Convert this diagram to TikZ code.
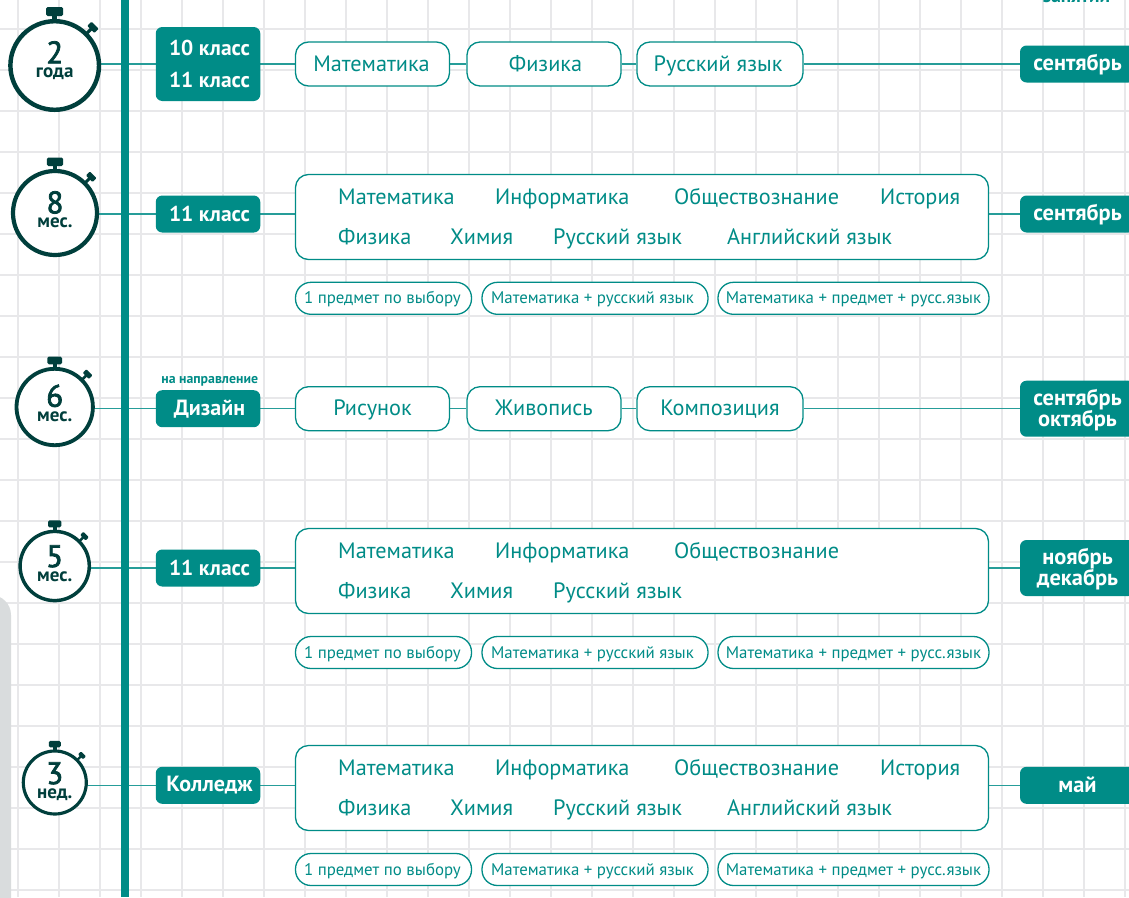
\documentclass[tikz,border=0pt]{standalone}
\usepackage{fontspec}
\setmainfont{PT Sans}
\newfontfamily\numfont[FakeBold=2.5]{PT Sans}
\definecolor{teal1}{HTML}{008C87}
\definecolor{dark1}{HTML}{003F3C}
\definecolor{gridc}{HTML}{E8E8EA}
\definecolor{panel}{HTML}{D9DCDD}
\pgfdeclarelayer{bglayer}
\pgfdeclarelayer{linklayer}
\pgfdeclarelayer{toplayer}
\pgfsetlayers{bglayer,linklayer,main,toplayer}
\tikzset{
  x=1pt,y=-1pt,
  link/.style={draw=teal1!85!white,line width=1.4pt},
  outbox/.style={draw=teal1,line width=1.3pt,fill=white,rounded corners=13pt,inner sep=0pt,text=teal1,font=\fontsize{22.25}{22.25}\selectfont,anchor=center,align=center,text height=18pt,text depth=4pt},
  pill/.style={draw=teal1,line width=1.3pt,fill=white,rounded corners=15.5pt,inner sep=0pt,text=teal1,font=\fontsize{16.85}{16.85}\selectfont,anchor=center,text height=15pt,text depth=4pt,minimum height=32pt},
  subj/.style={text=teal1,font=\fontsize{22.25}{22.25}\selectfont,inner sep=0pt,anchor=base west},
  tag/.style={fill=teal1,rounded corners=6.5pt,inner sep=0pt,text=white,font=\fontsize{22}{25}\selectfont\bfseries,align=center,anchor=center,minimum width=104.5pt,minimum height=37pt},
  endtag/.style={fill=teal1,rounded corners=6.5pt,inner sep=0pt,text=white,font=\fontsize{22.4}{21}\selectfont\bfseries,align=center,anchor=center,minimum width=115pt,minimum height=37pt},
  oneline/.style={text height=17.5pt,text depth=4pt},
  bignum/.style={text=dark1,inner sep=0pt,font=\numfont\fontsize{31}{31}\selectfont},
  smalllab/.style={text=dark1,inner sep=0pt,font=\fontsize{19}{19}\selectfont\bfseries},
}
% #1 name, #2 cx, #3 cy, #4 radius, #5 number baseline, #6 label baseline, #7 number, #8 label
\newcommand{\watch}[8]{%
  \pgfmathsetmacro{\wscale}{#4/44.3}%
  \pgfmathsetmacro{\wstroke}{#4*0.1}%
  \node[circle,draw=dark1,line width=\wstroke pt,fill=white,minimum size=#4*2pt,inner sep=0pt] (#1) at (#2,#3) {};
  \begin{scope}[shift={(#2,#3)},scale=\wscale]
    \fill[dark1,rounded corners=1.5pt] (-8.5,-58.5) rectangle (8.5,-49.5);
    \fill[dark1] (-2.5,-50) rectangle (2.5,-45);
    \begin{scope}[rotate=-45]
      \fill[dark1] (-1.6,-52) rectangle (1.6,-45);
      \fill[dark1,rounded corners=1pt] (-5,-57) rectangle (5,-51);
    \end{scope}
  \end{scope}
  \node[bignum,anchor=base] at (#2,#5) {#7};
  \node[smalllab,anchor=base] at (#2,#6) {#8};
}
\newcommand{\subjectsFull}[1]{%
  \node[subj] at (338,#1+7.5) {Математика};
  \node[subj] at (495,#1+7.5) {Информатика};
  \node[subj] at (674,#1+7.5) {Обществознание};
  \node[subj] at (880,#1+7.5) {История};
  \node[subj] at (338,#1+47.5) {Физика};
  \node[subj] at (450,#1+47.5) {Химия};
  \node[subj] at (553,#1+47.5) {Русский язык};
  \node[subj] at (727,#1+47.5) {Английский язык};
}
\newcommand{\pills}[2]{%
  \node[pill,minimum width=176pt] (#1a) at (383.5,#2) {1 предмет по выбору\hspace*{2pt}};
  \node[pill,minimum width=226pt] (#1b) at (595,#2) {Математика + русский язык\hspace*{5pt}};
  \node[pill,minimum width=271pt] (#1c) at (853.5,#2) {Математика + предмет + русс.язык};
}
\newcommand{\tn}{\hspace*{3pt}}
\begin{document}
\begin{tikzpicture}
\useasboundingbox (0,0) rectangle (1129,897);
\begin{pgfonlayer}{bglayer}
\fill[white] (0,0) rectangle (1129,897);
\foreach \gx in {18,59,...,1129} \draw[gridc,line width=2pt] (\gx,0) -- (\gx,897);
\foreach \gy in {29,70,...,897} \draw[gridc,line width=2pt] (0,\gy) -- (1129,\gy);
\fill[panel,rounded corners=20pt] (-40,595) rectangle (11,960);
\end{pgfonlayer}

% row 1
\watch{wa}{54.7}{65.5}{44.3}{63.3}{77}{2}{года}
\node[tag,minimum height=74pt,font=\fontsize{21.5}{32}\selectfont\bfseries] (ta) at (208,64) {\tn 10 класс\\\tn 11 класс};
\node[outbox,minimum width=154pt,minimum height=44pt] (a1) at (372.5,64) {Математика\hspace*{2pt}};
\node[outbox,minimum width=154pt,minimum height=44pt] (a2) at (544,64) {\hspace*{3pt}Физика};
\node[outbox,minimum width=166pt,minimum height=44pt] (a3) at (720,64) {Русский язык\hspace*{4pt}};
\node[endtag,oneline] (ea) at (1077.5,64) {сентябрь};

% row 2
\watch{wb}{55}{213}{42}{213.3}{227}{8}{мес.}
\node[tag,font=\fontsize{21.5}{32}\selectfont\bfseries] (tb) at (208,214) {\tn 11 класс};
\node[outbox,minimum width=693pt,minimum height=85pt] (bigb) at (642,217) {};
\subjectsFull{197}
\pills{pb}{298.3}
\node[endtag,oneline] (eb) at (1077.5,214) {сентябрь};

% row 3
\watch{wc}{54.7}{407}{38.2}{406.7}{421.7}{6}{мес.}
\node[text=teal1,font=\fontsize{13.8}{14}\selectfont\bfseries,inner sep=0pt,anchor=base] (nn) at (209.7,383.3) {на направление};
\node[tag,text height=18pt,text depth=3.5pt] (tc) at (208,408.7) {\tn Дизайн};
\node[outbox,minimum width=154pt,minimum height=44pt] (c1) at (372.5,408.7) {Рисунок};
\node[outbox,minimum width=154pt,minimum height=44pt] (c2) at (544,408.7) {Живопись};
\node[outbox,minimum width=166pt,minimum height=44pt] (c3) at (720,408.7) {Композиция};
\node[endtag,minimum height=56pt] (ec) at (1077.5,408.7) {\rule{0pt}{19pt}сентябрь\\октябрь};

% row 4
\watch{wd}{54.7}{566}{34.6}{567}{581.7}{5}{мес.}
\node[tag,font=\fontsize{21.5}{32}\selectfont\bfseries] (td) at (208,568) {\tn 11 класс};
\node[outbox,minimum width=693pt,minimum height=85pt] (bigd) at (642,571) {};
\node[subj] at (338,558.5) {Математика};
\node[subj] at (495,558.5) {Информатика};
\node[subj] at (674,558.5) {Обществознание};
\node[subj] at (338,598.5) {Физика};
\node[subj] at (450,598.5) {Химия};
\node[subj] at (553,598.5) {Русский язык};
\pills{pd}{652.5}
\node[endtag,minimum height=56pt] (ed) at (1077.5,568) {\rule{0pt}{18pt}ноябрь\\декабрь};

% row 5
\watch{we}{54.8}{782.5}{31.5}{784}{798}{3}{нед.}
\node[tag] (te) at (208,785.3) {\tn Колледж};
\node[outbox,minimum width=693pt,minimum height=85pt] (bige) at (642,788) {};
\subjectsFull{768}
\pills{pe}{869.5}
\node[endtag,oneline] (ee) at (1077.5,785.3) {май};

% top clipped text
\node[text=teal1,font=\fontsize{19.3}{20}\selectfont\bfseries,inner sep=0pt,anchor=base] (topt) at (1076.5,2) {занятий};

% axis
\begin{pgfonlayer}{toplayer}
\coordinate (axt) at (125,0);
\coordinate (axb) at (125,897);
\draw[teal1,line width=8pt] (axt) -- (axb);
\end{pgfonlayer}

% connectors
\begin{pgfonlayer}{linklayer}
\draw[link] (wa.center|-ta.west) -- (ta.west);
\draw[link] (ta.east) -- (a1.west);
\draw[link] (a1.east) -- (a2.west);
\draw[link] (a2.east) -- (a3.west);
\draw[link] (a3.east) -- (ea.west);
\draw[link] (wb.center|-tb.west) -- (tb.west);
\draw[link] (tb.east) -- (bigb.center|-tb.east);
\draw[link] (bigb.center|-eb.west) -- (eb.west);
\draw[link] (wc.center|-tc.west) -- (tc.west);
\draw[link] (tc.east) -- (c1.west);
\draw[link] (c1.east) -- (c2.west);
\draw[link] (c2.east) -- (c3.west);
\draw[link] (c3.east) -- (ec.west);
\draw[link] (wd.center|-td.west) -- (td.west);
\draw[link] (td.east) -- (bigd.center|-td.east);
\draw[link] (bigd.center|-ed.west) -- (ed.west);
\draw[link] (we.center|-te.west) -- (te.west);
\draw[link] (te.east) -- (bige.center|-te.east);
\draw[link] (bige.center|-ee.west) -- (ee.west);
\end{pgfonlayer}
\end{tikzpicture}
\end{document}
